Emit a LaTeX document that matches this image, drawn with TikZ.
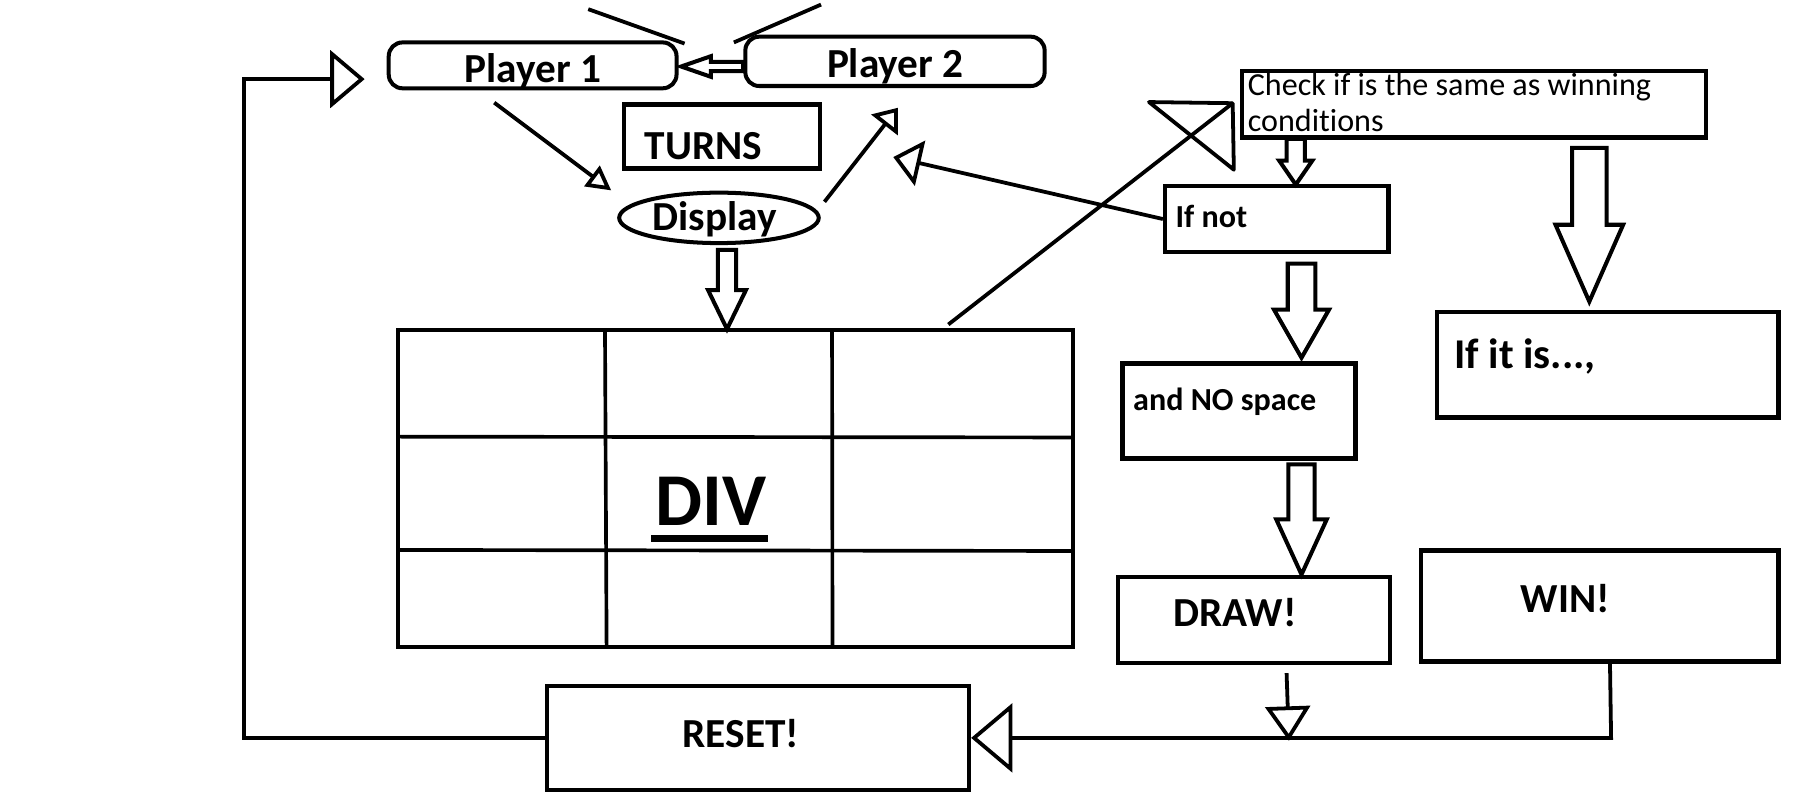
\documentclass[tikz,border=0pt]{standalone}
\usepackage{fontspec}
\setmainfont{Carlito}[Ligatures={NoCommon}]
\usetikzlibrary{arrows.meta,calc,shapes.geometric}
\newcommand\blockdown[6]{\draw[blk] ({#1-#5},#2) -- ({#1+#5},#2) -- ({#1+#5},#3) -- ({#1+#6},#3) -- (#1,#4) -- ({#1-#6},#3) -- ({#1-#5},#3) -- cycle;}
\tikzset{
  box/.style={draw, line width=3.8pt, rectangle, inner sep=0pt},
  pbox/.style={draw, line width=3.5pt, rounded corners=12pt, rectangle, inner sep=0pt},
  lbl/.style={anchor=base west, inner sep=0pt, font=\bfseries\fontsize{36}{43}\selectfont},
  conn/.style={line width=3.3pt},
  blk/.style={line width=3.5pt},
}
\begin{document}
\begin{tikzpicture}[x=1pt,y=-1pt]
\useasboundingbox (0,0) rectangle (1568,706);

% nodes
\node[pbox, minimum width=251pt, minimum height=40pt] (p1) at (464.5,57) {};
\node[pbox, minimum width=261pt, minimum height=43pt] (p2) at (780.5,53.5) {};
\node[box, minimum width=171pt, minimum height=56pt] (turns) at (629.5,119) {};
\node[draw, ellipse, line width=3.5pt, minimum width=174pt, minimum height=44pt, inner sep=0pt] (disp) at (627,190) {};
\node[box, minimum width=589pt, minimum height=276pt] (grid) at (641.5,426) {};
\node[box, minimum width=405pt, minimum height=58pt] (check) at (1285.5,91) {};
\node[box, minimum width=195pt, minimum height=58pt] (ifnot) at (1113.5,191) {};
\node[box, minimum width=203pt, minimum height=83pt] (nospace) at (1080.5,358.5) {};
\node[box, minimum width=298pt, minimum height=92pt] (ifis) at (1402,318) {};
\node[box, minimum width=237pt, minimum height=75pt] (draw) at (1093.5,540.5) {};
\node[box, minimum width=312pt, minimum height=97pt] (win) at (1395,528.5) {};
\node[box, minimum width=368pt, minimum height=91pt] (reset) at (661,643.5) {};

% grid lines
\draw[line width=3.2pt] (527.6,288) -- (529,564);
\draw[line width=3.2pt] (725.6,288) -- (726,564);
\draw[line width=3.2pt] (347,380.8) -- (936,381.5);
\draw[line width=3.2pt] (347,479.6) -- (936,480.5);

% texts
\node[lbl] (t1) at (405,72) {Player 1};
\node[lbl] (t2) at (721,67.5) {Player 2};
\node[lbl] (t3) at (562,139) {TURNS};
\node[lbl] (t4) at (569,201) {Display};
\node[lbl, font=\bfseries\fontsize{65}{70}\selectfont] (t5) at (571.6,458) {DIV};
\draw[line width=6pt] (568,469.5) -- (670,469.5);
\node[lbl, font=\fontsize{28}{32}\selectfont] (t6) at (1088,83) {Check if is the same as winning};
\node[lbl, font=\fontsize{28}{32}\selectfont] (t6b) at (1088,115) {conditions};
\node[lbl, font=\bfseries\fontsize{28}{32}\selectfont] (t7) at (1025,198) {If not};
\node[lbl, font=\bfseries\fontsize{28}{32}\selectfont] (t8) at (988,358) {and NO space};
\node[lbl, font=\bfseries\fontsize{37}{44}\selectfont] (t9) at (1268,321) {If it is...,};
\node[lbl] (t10) at (1023,546) {DRAW!};
\node[lbl] (t11) at (1326,534) {WIN!};
\node[lbl] (t12) at (595,652) {RESET!};

% coordinates
\coordinate (lp1) at (213,69);
\coordinate (lp2) at (318,69);
\coordinate (a1s) at (431,89.5);
\coordinate (a1e) at (533,166);
\coordinate (a2s) at (719,176);
\coordinate (a2e) at (783,94);
\coordinate (a3e) at (779,137);
\coordinate (xs) at (827,283);
\coordinate (xa) at (1002,89);
\coordinate (xb) at (1075,90);
\coordinate (xc) at (1076,148);
\coordinate (s1a) at (513,8);
\coordinate (s1b) at (597,38);
\coordinate (s2a) at (640,37);
\coordinate (s2b) at (716,4);
\coordinate (d1s) at (1122,587);
\coordinate (d1e) at (1124,646);
\coordinate (w1) at (1404,577);
\coordinate (w2) at (1405,643.5);

% connectors
\draw[conn, -{Triangle[open,length=30pt,width=50pt,line width=3.3pt]}] (reset.west) -| (lp1) -- (lp2);
\draw[conn, -{Triangle[open,length=21pt,width=22pt,line width=3.3pt]}] (a1s) -- (a1e);
\draw[conn, -{Triangle[open,length=19pt,width=29pt,line width=3.3pt]}] (a2s) -- (a2e);
\draw[conn, -{Triangle[open,length=24pt,width=40pt,line width=3.3pt]}] (ifnot.west) -- (a3e);
\draw[conn] (xs) -- (xb);
\draw[conn, line join=round] (xa) -- (xb) -- (xc) -- cycle;
\draw[conn] (s1a) -- (s1b);
\draw[conn] (s2a) -- (s2b);
\draw[conn, -{Triangle[open,length=30pt,width=39pt,line width=3.3pt]}] (d1s) -- (d1e);
\draw[conn, -{Triangle[open,length=36pt,width=60pt,line width=3.3pt]}] (w1) -- (w2) -- (reset.east);

% block arrows
\draw[blk] (594,58) -- (620,49) -- (620,54) -- (648,54) -- (648,62) -- (620,62) -- (620,67) -- cycle;
\blockdown{634}{218}{253}{287}{8}{16.5}
\blockdown{1130}{121}{140}{161}{8}{14.5}
\blockdown{1386}{129}{196}{263}{15}{29.5}
\blockdown{1135}{230}{270}{312}{12}{24}
\blockdown{1135}{405}{453}{501}{11.5}{22}
\end{tikzpicture}
\end{document}
